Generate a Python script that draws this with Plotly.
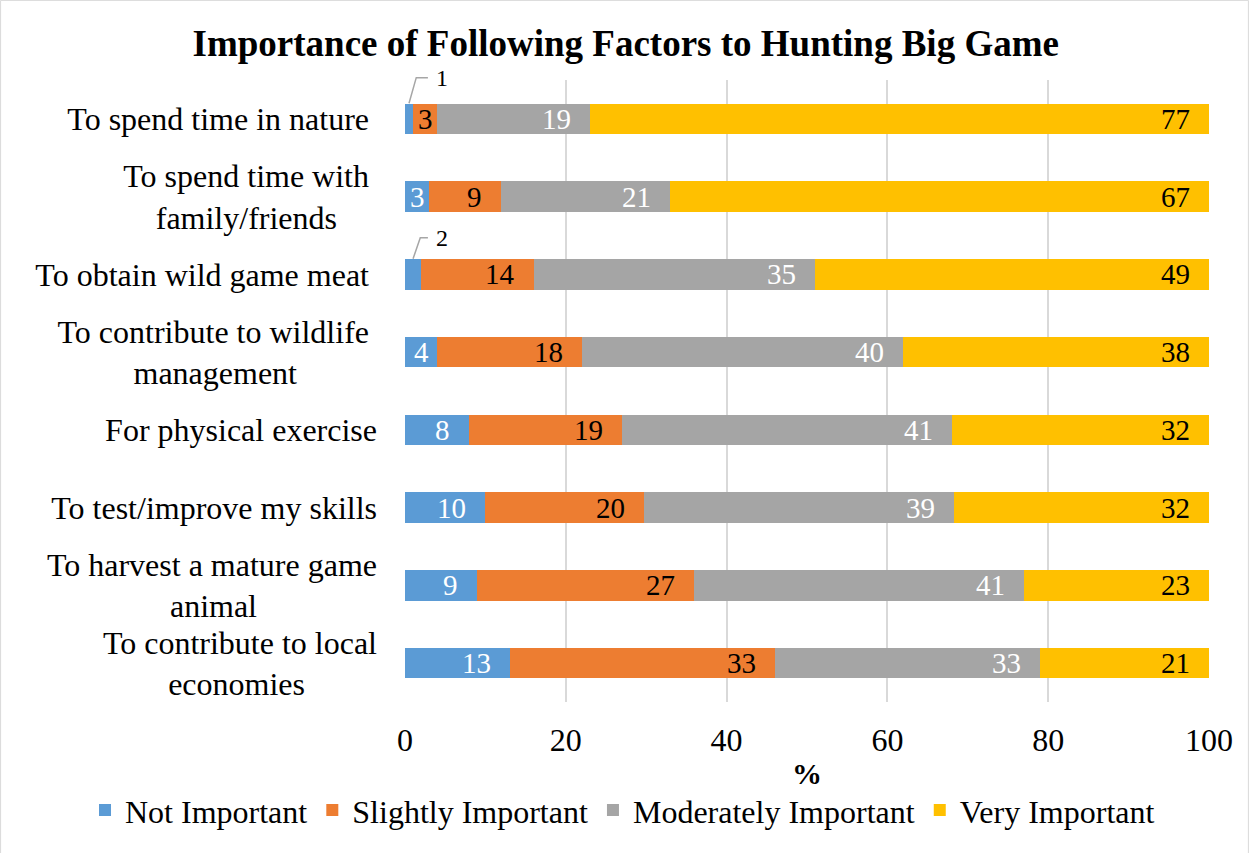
"""
Importance of following factors to hunting big game - 100% stacked bars
"""
import numpy as np
import plotly.graph_objects as go

NB = "\u00a0"

categories = [
    "To spend time in nature",
    "To spend time with family/friends",
    "To obtain wild game meat",
    "To contribute to wildlife management",
    "For physical exercise",
    "To test/improve my skills",
    "To harvest a mature game animal",
    "To contribute to local economies",
]
# wrapped the way the original axis shows them (nbsp pads keep the centring)
tick_labels = [
    "To spend time in nature" + NB,
    "To spend time with" + NB + "<br>family/friends" + NB * 5,
    "To obtain wild game meat" + NB,
    "To contribute to wildlife" + NB + "<br>management" + NB * 10,
    "For physical exercise",
    "To test/improve my skills",
    "To harvest a mature game<br>animal" + NB * 15,
    "To contribute to local<br>economies" + NB * 9,
]

series_names = ["Not Important", "Slightly Important", "Moderately Important", "Very Important"]
not_important = [1, 3, 2, 4, 8, 10, 9, 13]
slightly = [3, 9, 14, 18, 19, 20, 27, 33]
moderately = [19, 21, 35, 40, 41, 39, 41, 33]
very = [77, 67, 49, 38, 32, 32, 23, 21]

colors = ["#5B9BD5", "#ED7D31", "#A5A5A5", "#FFC000"]
label_colors = ["white", "black", "white", "black"]
FONT = "Liberation Serif, Times New Roman, serif"

data = np.array([not_important, slightly, moderately, very], dtype=float)
pct = data / data.sum(axis=0) * 100
cum = np.cumsum(pct, axis=0)
n = len(categories)


def ypaper(idx):
    # category index -> paper y (axis range is [n-0.5, -0.5])
    return (n - 0.5 - idx) / n


fig = go.Figure()
for name, vals, col in zip(series_names, data, colors):
    fig.add_trace(go.Bar(
        y=categories, x=vals, name=name, orientation="h",
        marker=dict(color=col, line=dict(width=0)),
    ))

annotations = []
shapes = []
for j in range(4):
    for i, cat in enumerate(categories):
        v = data[j, i]
        if v < 3:
            # small segment: callout above the bar with an elbow leader line
            x0 = (cum[j, i] - pct[j, i] / 2) / 100
            y0 = ypaper(i - 0.2)
            y1 = ypaper(i - 0.2 - (0.33 if i == 0 else 0.27))
            shapes.append(dict(
                type="path", xref="paper", yref="paper",
                path=f"M {x0},{y0} L {x0 + 0.009},{y1} L 0.0285,{y1}",
                line=dict(color="#A6A6A6", width=1.5),
            ))
            annotations.append(dict(
                x=0.036, y=y1, xref="paper", yref="paper", text=str(int(v)),
                showarrow=False, xanchor="left", yanchor="middle",
                font=dict(family=FONT, size=24, color="black"),
            ))
            continue
        narrow = pct[j, i] < 4.5
        annotations.append(dict(
            x=cum[j, i] - (pct[j, i] / 2 if narrow else 0), y=cat,
            xref="x", yref="y", text=str(int(v)), showarrow=False,
            xanchor="center" if narrow else "right", yanchor="middle",
            xshift=0 if narrow else -17,
            font=dict(family=FONT, size=29, color=label_colors[j]),
        ))

# light chart border round the whole picture
shapes.append(dict(
    type="rect", xref="paper", yref="paper",
    x0=-0.503, x1=1.049, y0=-0.244, y1=1.128,
    line=dict(color="#D9D9D9", width=1), fillcolor="rgba(0,0,0,0)",
))

fig.update_layout(
    barmode="stack", barnorm="percent", bargap=0.605,
    width=1249, height=853,
    paper_bgcolor="white", plot_bgcolor="white",
    font=dict(family=FONT, size=32, color="black"),
    margin=dict(l=405, r=40, t=80, b=151, autoexpand=False),
    title=dict(
        text="<b>Importance of Following Factors to Hunting Big Game</b>",
        x=0.501, xref="container", xanchor="center",
        y=0.95, yref="container", yanchor="middle",
        font=dict(family=FONT, size=37, color="black"),
    ),
    legend=dict(
        orientation="h", xref="paper", yref="paper",
        x=-0.398, xanchor="left", y=-0.174, yanchor="middle",
        font=dict(family=FONT, size=32), traceorder="normal",
        bgcolor="rgba(0,0,0,0)",
    ),
    annotations=annotations, shapes=shapes,
)
fig.update_xaxes(
    range=[0, 100], tickvals=[0, 20, 40, 60, 80, 100], ticks="",
    showgrid=True, gridcolor="#D9D9D9", gridwidth=1.5,
    zeroline=False, showline=False, automargin=False,
    ticklabelstandoff=16,
    title=dict(text="<b>%</b>", standoff=5, font=dict(family=FONT, size=30)),
)
fig.update_yaxes(
    range=[n - 0.5, -0.5], tickvals=categories, ticktext=tick_labels,
    ticks="", showgrid=False, showline=False, automargin=False,
    ticklabelstandoff=27,
)

fig.write_html(
    "out.html",
    config={"displayModeBar": False},
    post_script="document.body.style.margin='0px';",
)
